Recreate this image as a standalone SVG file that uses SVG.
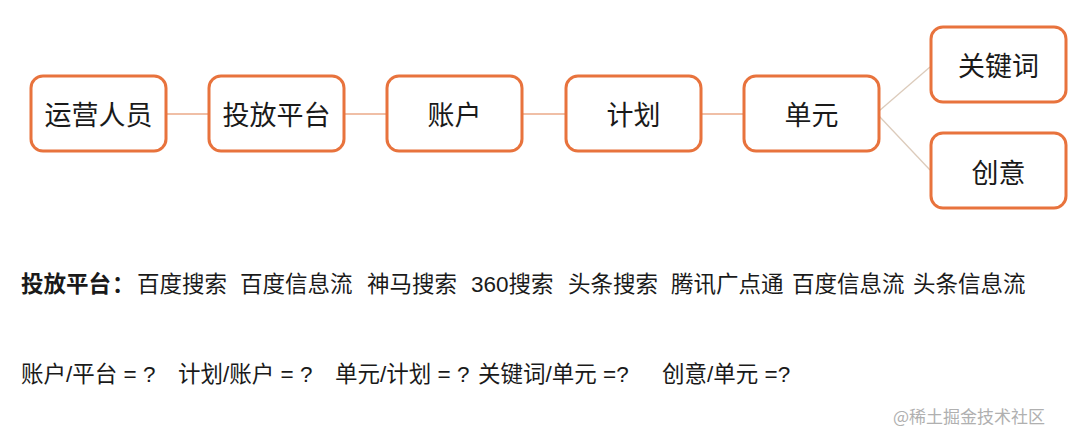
<svg xmlns="http://www.w3.org/2000/svg" width="1080" height="443" viewBox="0 0 1080 443">
<style>
.box{fill:#fff;stroke:#E8733D;stroke-width:3}
.lbl{font-family:"Noto Sans CJK SC","Liberation Sans",sans-serif;font-size:27px;fill:#1a1a1a;text-anchor:middle;dominant-baseline:central}
.conn{stroke:#EBAA88;stroke-width:1.3;fill:none}
.conn2{stroke:#DCCBBB;stroke-width:1.3;fill:none}
.t{font-family:"Liberation Sans","Noto Sans CJK SC",sans-serif;font-size:22.5px;fill:#1a1a1a}
.wm{font-family:"Noto Sans CJK SC","Liberation Sans",sans-serif;font-size:17px;fill:#b0b0b0}
</style>
<rect width="1080" height="443" fill="#fff"/>
<g id="connectors">
<line class="conn" x1="166" y1="114" x2="209" y2="114"/>
<line class="conn" x1="344" y1="114" x2="387" y2="114"/>
<line class="conn" x1="522" y1="114" x2="566" y2="114"/>
<line class="conn" x1="701" y1="114" x2="743" y2="114"/>
<line class="conn2" x1="879" y1="111" x2="930" y2="67"/>
<line class="conn2" x1="879" y1="116" x2="930" y2="170"/>
</g>
<g id="n1"><rect class="box" x="31" y="76" width="135" height="75" rx="12"/><text class="lbl" x="98.5" y="113">运营人员</text></g>
<g id="n2"><rect class="box" x="209" y="76" width="135" height="75" rx="12"/><text class="lbl" x="276.5" y="113">投放平台</text></g>
<g id="n3"><rect class="box" x="387" y="76" width="135" height="75" rx="12"/><text class="lbl" x="454.5" y="113">账户</text></g>
<g id="n4"><rect class="box" x="566" y="76" width="135" height="75" rx="12"/><text class="lbl" x="633.5" y="113">计划</text></g>
<g id="n5"><rect class="box" x="744" y="76" width="135" height="75" rx="12"/><text class="lbl" x="811.5" y="113">单元</text></g>
<g id="n6"><rect class="box" x="931" y="27" width="135" height="75" rx="12"/><text class="lbl" x="998.5" y="64">关键词</text></g>
<g id="n7"><rect class="box" x="931" y="133" width="135" height="75" rx="12"/><text class="lbl" x="998.5" y="171">创意</text></g>
<text class="t" y="292"><tspan x="21" font-weight="bold">投放平台</tspan><tspan x="112" font-weight="bold">：</tspan><tspan x="137">百度搜索</tspan><tspan x="240">百度信息流</tspan><tspan x="367">神马搜索</tspan><tspan x="471">360搜索</tspan><tspan x="568">头条搜索</tspan><tspan x="671">腾讯广点通</tspan><tspan x="792">百度信息流</tspan><tspan x="913">头条信息流</tspan></text>
<text class="t" y="382"><tspan x="21">账户/平台 = ?</tspan><tspan x="178">计划/账户 = ?</tspan><tspan x="335">单元/计划 = ?</tspan><tspan x="478">关键词/单元 =?</tspan><tspan x="662">创意/单元 =?</tspan></text>
<text class="wm" x="893" y="423">@稀土掘金技术社区</text>
</svg>
